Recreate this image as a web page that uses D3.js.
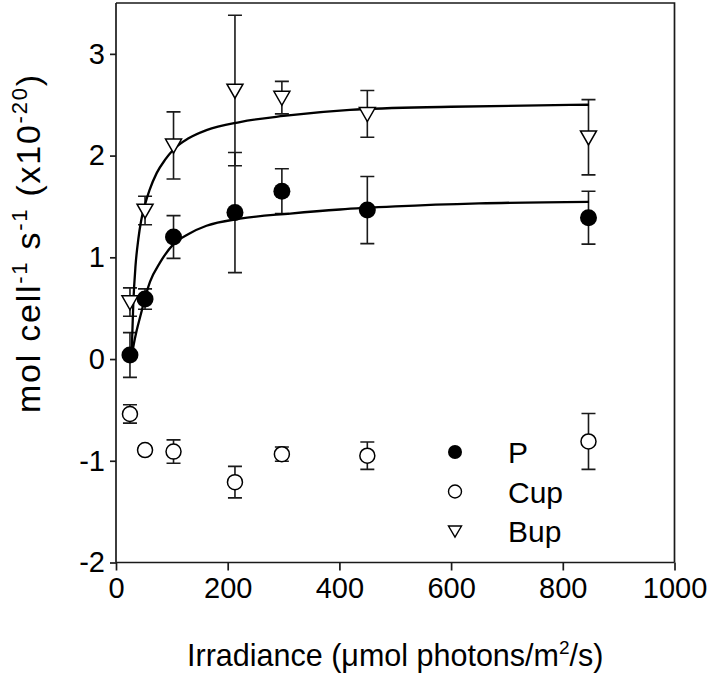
<!DOCTYPE html>
<html>
<head>
<meta charset="utf-8">
<script src="https://cdn.jsdelivr.net/npm/d3@7"></script>
<style>
  html, body { margin: 0; padding: 0; background: #fff; }
  svg { display: block; }
  text { font-family: "Liberation Sans", Arial, Helvetica, sans-serif; fill: #000; }
</style>
</head>
<body>
<svg id="chart" width="710" height="678"></svg>
<script>
// ---------------- data ----------------
const irradiance = [25, 52, 103, 213, 297, 450, 846];

const pMean  = [0.04, 0.59, 1.20, 1.44, 1.65, 1.465, 1.39];
const pErr   = [0.22, 0.10, 0.21, 0.59, 0.22, 0.33, 0.26];

const cupMean = [-0.54, -0.895, -0.91, -1.21, -0.935, -0.95, -0.81];
const cupErr  = [0.09, 0.04, 0.115, 0.155, 0.07, 0.135, 0.275];

const bupMean = [0.56, 1.46, 2.10, 2.64, 2.57, 2.41, 2.18];
const bupErr  = [0.14, 0.14, 0.33, 0.74, 0.16, 0.23, 0.37];

// fitted curves
const bupFitX = [28, 31, 35, 40, 45, 52, 60, 73, 88, 103, 130, 162, 222, 300, 419, 600, 847];
const bupFitY = [0.05, 0.55, 0.92, 1.18, 1.36, 1.52, 1.66, 1.83, 1.96, 2.06, 2.17, 2.25, 2.33, 2.39, 2.45, 2.48, 2.50];

const pFitX = [28, 32, 37, 44, 51, 61, 79, 103, 130, 162, 222, 312, 401, 500, 650, 847];
const pFitY = [0.02, 0.15, 0.28, 0.43, 0.58, 0.76, 0.95, 1.13, 1.23, 1.31, 1.38, 1.43, 1.47, 1.50, 1.53, 1.545];

const xTicks = [0, 200, 400, 600, 800, 1000];
const yTicks = [-2, -1, 0, 1, 2, 3];

const legendLabels = ["P", "Cup", "Bup"];

// ---------------- layout ----------------
const svg = d3.select("#chart");
const mLeft = 116, mRight = 674.5, mTop = 3, mBottom = 562.5;
const x = d3.scaleLinear().domain([0, 1000]).range([mLeft, mRight]);
const y = d3.scaleLinear().domain([-2, 3.5]).range([mBottom, mTop]);
const axisColor = "#1a1a1a";
const fontSize = 29;
const fmt = d => String(d); // plain hyphen minus like the original

// frame (top & right)
svg.append("path")
  .attr("d", `M${mLeft},${mTop}H${mRight}V${mBottom}`)
  .attr("fill", "none").attr("stroke", axisColor).attr("stroke-width", 1.7);

// x axis
const gx = svg.append("g").attr("transform", `translate(0,${mBottom})`)
  .call(d3.axisBottom(x).tickValues(xTicks).tickSize(8).tickSizeOuter(0).tickPadding(7).tickFormat(fmt));
// y axis
const gy = svg.append("g").attr("transform", `translate(${mLeft},0)`)
  .call(d3.axisLeft(y).tickValues(yTicks).tickSize(6).tickSizeOuter(0).tickPadding(5).tickFormat(fmt));

[gx, gy].forEach(g => {
  g.select(".domain").attr("stroke", axisColor).attr("stroke-width", 1.7);
  g.selectAll(".tick line").attr("stroke", axisColor).attr("stroke-width", 1.7);
  g.selectAll(".tick text").attr("font-size", fontSize)
    .attr("font-family", '"Liberation Sans", Arial, sans-serif').attr("fill", "#000");
});
gx.selectAll(".tick text").attr("dy", "0.71em");
gy.select(".domain").attr("d", `M0,${mTop}V${mBottom}`);
gx.select(".domain").attr("d", `M${mLeft},0H${mRight}`);

// ---------------- error bars ----------------
const capW = 7;
function errorBars(means, errs) {
  const g = svg.append("g").attr("stroke", axisColor).attr("stroke-width", 1.6).attr("fill", "none");
  irradiance.forEach((xv, i) => {
    const cx = x(xv), y1 = y(means[i] + errs[i]), y2 = y(means[i] - errs[i]);
    g.append("path").attr("d",
      `M${cx},${y1}V${y2}M${cx - capW},${y1}H${cx + capW}M${cx - capW},${y2}H${cx + capW}`);
  });
}
errorBars(pMean, pErr);
errorBars(cupMean, cupErr);
errorBars(bupMean, bupErr);

// ---------------- fitted curves ----------------
const line = d3.line().x(d => x(d[0])).y(d => y(d[1])).curve(d3.curveMonotoneX);
svg.append("path").datum(d3.zip(bupFitX, bupFitY)).attr("d", line)
  .attr("fill", "none").attr("stroke", "#000").attr("stroke-width", 2.3);
svg.append("path").datum(d3.zip(pFitX, pFitY)).attr("d", line)
  .attr("fill", "none").attr("stroke", "#000").attr("stroke-width", 2.3);

// ---------------- markers ----------------
const tri = (cx, cy, w, h) => {
  const t = cy - h * 0.45, b = cy + h * 0.55;
  return `M${cx - w / 2},${t}L${cx + w / 2},${t}L${cx},${b}Z`;
};
irradiance.forEach((xv, i) => {
  svg.append("path").attr("d", tri(x(xv), y(bupMean[i]), 16, 14))
    .attr("fill", "#fff").attr("stroke", "#000").attr("stroke-width", 1.5);
});
irradiance.forEach((xv, i) => {
  svg.append("circle").attr("cx", x(xv)).attr("cy", y(cupMean[i])).attr("r", 7.5)
    .attr("fill", "#fff").attr("stroke", "#000").attr("stroke-width", 1.5);
});
irradiance.forEach((xv, i) => {
  svg.append("circle").attr("cx", x(xv)).attr("cy", y(pMean[i])).attr("r", 8.5)
    .attr("fill", "#000");
});

// ---------------- legend ----------------
const legX = 455, legTextX = 508, legY0 = 452, legDy = 39.5;
svg.append("circle").attr("cx", legX).attr("cy", legY0).attr("r", 7).attr("fill", "#000");
svg.append("circle").attr("cx", legX).attr("cy", legY0 + legDy).attr("r", 6.5)
  .attr("fill", "#fff").attr("stroke", "#000").attr("stroke-width", 1.4);
svg.append("path").attr("d", tri(legX, legY0 + 2 * legDy, 13, 11))
  .attr("fill", "#fff").attr("stroke", "#000").attr("stroke-width", 1.4);
legendLabels.forEach((lab, i) => {
  svg.append("text").attr("x", legTextX).attr("y", legY0 + i * legDy + 11)
    .attr("font-size", 30).text(lab);
});

// ---------------- axis titles ----------------
const xt = svg.append("text").attr("x", (mLeft + mRight) / 2).attr("y", 666)
  .attr("text-anchor", "middle").attr("font-size", 30.5);
xt.append("tspan").text("Irradiance (\u03bcmol photons/m");
xt.append("tspan").attr("font-size", 19).attr("dy", -12).text("2");
xt.append("tspan").attr("dy", 12).text("/s)");

const yt = svg.append("text")
  .attr("transform", `translate(40,244) rotate(-90)`)
  .attr("text-anchor", "middle").attr("font-size", 34)
  .attr("textLength", 338).attr("lengthAdjust", "spacing");
yt.append("tspan").text("mol cell");
yt.append("tspan").attr("font-size", 22).attr("dy", -13).text("-1");
yt.append("tspan").attr("dy", 13).text(" s");
yt.append("tspan").attr("font-size", 22).attr("dy", -13).text("-1");
yt.append("tspan").attr("dy", 13).text(" (x10");
yt.append("tspan").attr("font-size", 22).attr("dy", -13).text("-20");
yt.append("tspan").attr("dy", 13).text(")");
</script>
</body>
</html>
